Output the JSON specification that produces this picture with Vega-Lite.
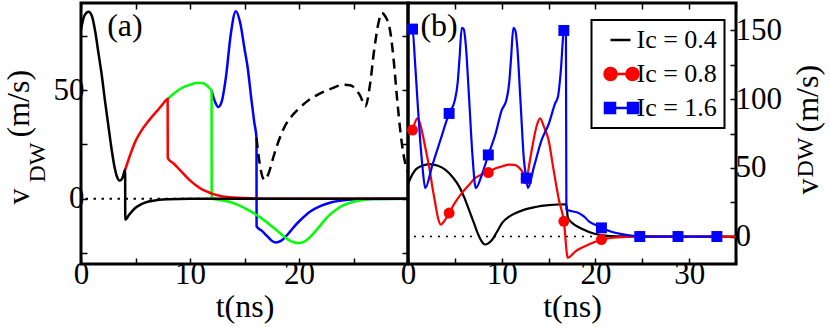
{
  "$schema": "https://vega.github.io/schema/vega-lite/v6.json",
  "padding": {"left": 0, "top": 0, "right": 0, "bottom": 0},
  "config": {
    "font": "Liberation Serif, DejaVu Serif, serif",
    "view": {"stroke": "#000000", "strokeWidth": 3},
    "axis": {"grid": false, "domain": false, "labelFont": "Liberation Serif, DejaVu Serif, serif", "titleFont": "Liberation Serif, DejaVu Serif, serif", "labelFontSize": 31, "titleFontSize": 32, "titleFontWeight": "normal", "labelColor": "#000000", "titleColor": "#000000", "tickColor": "#000000", "tickWidth": 1.5, "labelFlush": false, "labelOverlap": false},
    "legend": {"labelFont": "Liberation Serif, DejaVu Serif, serif", "labelFontSize": 26, "labelColor": "#000000"},
    "text": {"font": "Liberation Serif, DejaVu Serif, serif", "color": "#000000"}
  },
  "datasets": {
    "a_curves": [
      {"t":11.98,"v":49.8,"s":"d1"},{"t":12.3,"v":44.5,"s":"d1"},{"t":12.6,"v":42.2,"s":"d1"},{"t":12.9,"v":44.5,"s":"d1"},{"t":13.3,"v":56,"s":"d1"},{"t":13.75,"v":76,"s":"d1"},{"t":14.2,"v":86.2,"s":"d1"},{"t":14.6,"v":81,"s":"d1"},{"t":15.0,"v":69,"s":"d1"},{"t":15.3,"v":60,"s":"d1"},{"t":15.6,"v":47,"s":"d1"},{"t":15.9,"v":35,"s":"d1"},{"t":16.1,"v":28,"s":"d1"},{"t":16.11,"v":-12.7,"s":"d1"},{"t":16.6,"v":-14.8,"s":"d1"},{"t":17.1,"v":-17.3,"s":"d1"},{"t":17.5,"v":-19.3,"s":"d1"},{"t":17.9,"v":-20.1,"s":"d1"},{"t":18.3,"v":-19.5,"s":"d1"},{"t":18.7,"v":-17.8,"s":"d1"},{"t":19.2,"v":-15,"s":"d1"},{"t":19.7,"v":-12,"s":"d1"},{"t":20.2,"v":-9.5,"s":"d1"},{"t":21,"v":-6,"s":"d1"},{"t":22,"v":-3.3,"s":"d1"},{"t":23,"v":-1.6,"s":"d1"},{"t":24.5,"v":-0.5,"s":"d1"},{"t":26,"v":-0.1,"s":"d1"},{"t":30,"v":0,"s":"d1"},
      {"t":7.96,"v":45.9,"s":"d2"},{"t":8.5,"v":48.3,"s":"d2"},{"t":9.2,"v":50.8,"s":"d2"},{"t":10,"v":52.4,"s":"d2"},{"t":10.6,"v":53.2,"s":"d2"},{"t":11.1,"v":53.2,"s":"d2"},{"t":11.5,"v":52.3,"s":"d2"},{"t":11.8,"v":50.8,"s":"d2"},{"t":11.98,"v":49.8,"s":"d2"},{"t":11.99,"v":0,"s":"d2"},{"t":12.5,"v":-0.3,"s":"d2"},{"t":13.5,"v":-1.3,"s":"d2"},{"t":14.5,"v":-3,"s":"d2"},{"t":15.5,"v":-5.6,"s":"d2"},{"t":16.5,"v":-8.8,"s":"d2"},{"t":17.5,"v":-12.6,"s":"d2"},{"t":18.3,"v":-16,"s":"d2"},{"t":19,"v":-18.8,"s":"d2"},{"t":19.5,"v":-20,"s":"d2"},{"t":20,"v":-20.3,"s":"d2"},{"t":20.5,"v":-19.7,"s":"d2"},{"t":21,"v":-17.7,"s":"d2"},{"t":21.5,"v":-15,"s":"d2"},{"t":22,"v":-12,"s":"d2"},{"t":22.5,"v":-9,"s":"d2"},{"t":23,"v":-6.6,"s":"d2"},{"t":23.5,"v":-4.7,"s":"d2"},{"t":24,"v":-3.2,"s":"d2"},{"t":25,"v":-1.4,"s":"d2"},{"t":26,"v":-0.5,"s":"d2"},{"t":27,"v":-0.1,"s":"d2"},{"t":30,"v":0,"s":"d2"},
      {"t":4.05,"v":13.3,"s":"d3"},{"t":4.5,"v":20,"s":"d3"},{"t":5,"v":26.5,"s":"d3"},{"t":5.5,"v":31,"s":"d3"},{"t":6.2,"v":35.8,"s":"d3"},{"t":7,"v":40.5,"s":"d3"},{"t":7.5,"v":43.5,"s":"d3"},{"t":7.95,"v":45.9,"s":"d3"},{"t":7.96,"v":18.7,"s":"d3"},{"t":8.5,"v":16.2,"s":"d3"},{"t":9,"v":13.6,"s":"d3"},{"t":9.5,"v":11,"s":"d3"},{"t":10.1,"v":8,"s":"d3"},{"t":10.6,"v":6,"s":"d3"},{"t":11.1,"v":4.3,"s":"d3"},{"t":11.7,"v":3,"s":"d3"},{"t":12.3,"v":1.9,"s":"d3"},{"t":13,"v":1.1,"s":"d3"},{"t":14,"v":0.55,"s":"d3"},{"t":15,"v":0.3,"s":"d3"},{"t":16,"v":0.15,"s":"d3"},{"t":18,"v":0.05,"s":"d3"},{"t":30,"v":0,"s":"d3"},
      {"t":0,"v":77.7,"s":"d4"},{"t":0.3,"v":84,"s":"d4"},{"t":0.7,"v":86,"s":"d4"},{"t":1.0,"v":84,"s":"d4"},{"t":1.3,"v":77,"s":"d4"},{"t":1.6,"v":67,"s":"d4"},{"t":1.9,"v":57,"s":"d4"},{"t":2.2,"v":45,"s":"d4"},{"t":2.5,"v":34,"s":"d4"},{"t":2.8,"v":23,"s":"d4"},{"t":3.1,"v":14,"s":"d4"},{"t":3.35,"v":9.5,"s":"d4"},{"t":3.55,"v":8.3,"s":"d4"},{"t":3.8,"v":9.5,"s":"d4"},{"t":4.05,"v":13.3,"s":"d4"},{"t":4.06,"v":-9.7,"s":"d4"},{"t":4.4,"v":-7.5,"s":"d4"},{"t":4.9,"v":-4.6,"s":"d4"},{"t":5.5,"v":-2.6,"s":"d4"},{"t":6.2,"v":-1.3,"s":"d4"},{"t":7,"v":-0.6,"s":"d4"},{"t":8,"v":-0.2,"s":"d4"},{"t":10,"v":0,"s":"d4"},{"t":30,"v":0,"s":"d4"}
    ],
    "a_dash": [
      {"t":16.1,"v":28},{"t":16.4,"v":16},{"t":16.7,"v":9.5},{"t":16.9,"v":8.7},{"t":17.2,"v":11.5},{"t":17.7,"v":20},{"t":18.2,"v":27.5},{"t":18.7,"v":33.3},{"t":19.3,"v":37.8},{"t":19.9,"v":41},{"t":20.8,"v":45},{"t":21.7,"v":47.8},{"t":22.9,"v":50.5},{"t":24.1,"v":52.4},{"t":24.7,"v":52.2},{"t":25.1,"v":50.9},{"t":25.6,"v":47.5},{"t":26.1,"v":42.5},{"t":26.5,"v":52},{"t":26.9,"v":68.5},{"t":27.3,"v":81},{"t":27.6,"v":85.4},{"t":27.9,"v":84},{"t":28.4,"v":76},{"t":28.7,"v":63},{"t":29.0,"v":46},{"t":29.3,"v":31},{"t":29.6,"v":20},{"t":30,"v":12}
    ],
    "b_curves": [
      {"t":0,"v":38,"ic":"0.4"},{"t":0.3,"v":43,"ic":"0.4"},{"t":0.8,"v":48.6,"ic":"0.4"},{"t":1.5,"v":51.5,"ic":"0.4"},{"t":2.3,"v":52.7,"ic":"0.4"},{"t":3.2,"v":51.5,"ic":"0.4"},{"t":4.0,"v":48.6,"ic":"0.4"},{"t":4.8,"v":43,"ic":"0.4"},{"t":5.45,"v":36.5,"ic":"0.4"},{"t":6.0,"v":28.5,"ic":"0.4"},{"t":6.5,"v":19.6,"ic":"0.4"},{"t":7.0,"v":10.5,"ic":"0.4"},{"t":7.4,"v":3,"ic":"0.4"},{"t":7.8,"v":-2.8,"ic":"0.4"},{"t":8.2,"v":-5.8,"ic":"0.4"},{"t":8.6,"v":-4.8,"ic":"0.4"},{"t":9.0,"v":-2.2,"ic":"0.4"},{"t":9.5,"v":3.5,"ic":"0.4"},{"t":10.05,"v":9.9,"ic":"0.4"},{"t":10.8,"v":14.5,"ic":"0.4"},{"t":11.5,"v":17.1,"ic":"0.4"},{"t":12.5,"v":19.8,"ic":"0.4"},{"t":13.6,"v":21.5,"ic":"0.4"},{"t":15,"v":22.8,"ic":"0.4"},{"t":16.9,"v":23.5,"ic":"0.4"},{"t":17.05,"v":14,"ic":"0.4"},{"t":17.5,"v":10,"ic":"0.4"},{"t":18.6,"v":5.5,"ic":"0.4"},{"t":19.9,"v":2,"ic":"0.4"},{"t":21.3,"v":0.5,"ic":"0.4"},{"t":23,"v":0.1,"ic":"0.4"},{"t":35,"v":0,"ic":"0.4"},
      {"t":0.2,"v":76,"ic":"0.8"},{"t":0.48,"v":77.5,"ic":"0.8"},{"t":0.8,"v":84,"ic":"0.8"},{"t":1.0,"v":86,"ic":"0.8"},{"t":1.2,"v":84,"ic":"0.8"},{"t":1.54,"v":75,"ic":"0.8"},{"t":1.9,"v":63,"ic":"0.8"},{"t":2.25,"v":51,"ic":"0.8"},{"t":2.6,"v":36,"ic":"0.8"},{"t":2.96,"v":22,"ic":"0.8"},{"t":3.2,"v":13.5,"ic":"0.8"},{"t":3.5,"v":8.7,"ic":"0.8"},{"t":3.85,"v":11,"ic":"0.8"},{"t":4.39,"v":17.1,"ic":"0.8"},{"t":5.0,"v":24.5,"ic":"0.8"},{"t":5.74,"v":31.6,"ic":"0.8"},{"t":6.5,"v":37.5,"ic":"0.8"},{"t":7.15,"v":42.5,"ic":"0.8"},{"t":7.8,"v":45,"ic":"0.8"},{"t":8.57,"v":46.6,"ic":"0.8"},{"t":9.3,"v":49.5,"ic":"0.8"},{"t":10,"v":51,"ic":"0.8"},{"t":10.8,"v":52.3,"ic":"0.8"},{"t":11.35,"v":52.2,"ic":"0.8"},{"t":11.8,"v":50.5,"ic":"0.8"},{"t":12.2,"v":47.3,"ic":"0.8"},{"t":12.62,"v":42,"ic":"0.8"},{"t":13.0,"v":55,"ic":"0.8"},{"t":13.4,"v":70.3,"ic":"0.8"},{"t":13.75,"v":81,"ic":"0.8"},{"t":14.1,"v":86,"ic":"0.8"},{"t":14.5,"v":80,"ic":"0.8"},{"t":15.0,"v":70.3,"ic":"0.8"},{"t":15.5,"v":50,"ic":"0.8"},{"t":16.1,"v":26.8,"ic":"0.8"},{"t":16.63,"v":11.1,"ic":"0.8"},{"t":17.05,"v":-15.5,"ic":"0.8"},{"t":17.9,"v":-10.6,"ic":"0.8"},{"t":19.3,"v":-5.8,"ic":"0.8"},{"t":20.64,"v":-2.2,"ic":"0.8"},{"t":22,"v":-0.8,"ic":"0.8"},{"t":24,"v":-0.1,"ic":"0.8"},{"t":24.73,"v":0,"ic":"0.8"},{"t":35,"v":0,"ic":"0.8"},
      {"t":0.3,"v":151,"ic":"1.6"},{"t":0.48,"v":151,"ic":"1.6"},{"t":0.75,"v":127,"ic":"1.6"},{"t":1.01,"v":99,"ic":"1.6"},{"t":1.3,"v":70,"ic":"1.6"},{"t":1.54,"v":51,"ic":"1.6"},{"t":1.84,"v":35.3,"ic":"1.6"},{"t":2.6,"v":52,"ic":"1.6"},{"t":3.4,"v":69,"ic":"1.6"},{"t":4.39,"v":89.6,"ic":"1.6"},{"t":5.0,"v":99.3,"ic":"1.6"},{"t":5.3,"v":112,"ic":"1.6"},{"t":5.5,"v":130,"ic":"1.6"},{"t":5.74,"v":152,"ic":"1.6"},{"t":5.95,"v":151,"ic":"1.6"},{"t":6.16,"v":140,"ic":"1.6"},{"t":6.5,"v":103,"ic":"1.6"},{"t":6.87,"v":60,"ic":"1.6"},{"t":7.23,"v":35.3,"ic":"1.6"},{"t":7.93,"v":46,"ic":"1.6"},{"t":8.57,"v":59.4,"ic":"1.6"},{"t":9.35,"v":75,"ic":"1.6"},{"t":10.0,"v":92,"ic":"1.6"},{"t":10.5,"v":99.3,"ic":"1.6"},{"t":10.8,"v":112,"ic":"1.6"},{"t":11.0,"v":130,"ic":"1.6"},{"t":11.24,"v":152,"ic":"1.6"},{"t":11.45,"v":150,"ic":"1.6"},{"t":11.66,"v":138,"ic":"1.6"},{"t":12.0,"v":99,"ic":"1.6"},{"t":12.37,"v":55.8,"ic":"1.6"},{"t":12.62,"v":42.5,"ic":"1.6"},{"t":12.8,"v":35.3,"ic":"1.6"},{"t":13.44,"v":50.7,"ic":"1.6"},{"t":14.26,"v":70.3,"ic":"1.6"},{"t":15.04,"v":82.4,"ic":"1.6"},{"t":15.7,"v":97,"ic":"1.6"},{"t":16.0,"v":101.7,"ic":"1.6"},{"t":16.3,"v":120,"ic":"1.6"},{"t":16.63,"v":150,"ic":"1.6"},{"t":16.85,"v":152,"ic":"1.6"},{"t":16.9,"v":19.6,"ic":"1.6"},{"t":17.5,"v":18.4,"ic":"1.6"},{"t":18.2,"v":17.2,"ic":"1.6"},{"t":18.8,"v":14.5,"ic":"1.6"},{"t":19.3,"v":11.1,"ic":"1.6"},{"t":20.0,"v":8.5,"ic":"1.6"},{"t":20.64,"v":6.3,"ic":"1.6"},{"t":21.7,"v":3.5,"ic":"1.6"},{"t":22.8,"v":1.8,"ic":"1.6"},{"t":24,"v":0.5,"ic":"1.6"},{"t":24.73,"v":0,"ic":"1.6"},{"t":28.81,"v":0,"ic":"1.6"},{"t":32.96,"v":0,"ic":"1.6"}
    ],
    "b_marks": [
      {"t":0.48,"v":77.5,"ic":"0.8"},{"t":4.39,"v":17.1,"ic":"0.8"},{"t":8.57,"v":46.6,"ic":"0.8"},{"t":12.62,"v":42,"ic":"0.8"},{"t":16.63,"v":11.1,"ic":"0.8"},{"t":20.64,"v":-2.2,"ic":"0.8"},{"t":24.73,"v":0,"ic":"0.8"},{"t":28.81,"v":0,"ic":"0.8"},{"t":32.96,"v":0,"ic":"0.8"},
      {"t":0.48,"v":151,"ic":"1.6"},{"t":4.39,"v":89.6,"ic":"1.6"},{"t":8.57,"v":59.4,"ic":"1.6"},{"t":12.62,"v":42.5,"ic":"1.6"},{"t":16.63,"v":150,"ic":"1.6"},{"t":20.64,"v":6.3,"ic":"1.6"},{"t":24.73,"v":0,"ic":"1.6"},{"t":28.81,"v":0,"ic":"1.6"},{"t":32.96,"v":0,"ic":"1.6"}
    ]
  },
  "hconcat": [
    {
      "width": 327,
      "height": 261,
      "resolve": {"axis": {"x": "independent", "y": "independent"}},
      "layer": [
        {
          "data": {"values": [{"v": 0}]},
          "mark": {"type": "rule", "strokeDash": [2.5, 5.5], "strokeWidth": 2, "color": "#000000"},
          "encoding": {
            "y": {"field": "v", "type": "quantitative", "scale": {"domain": [-30, 90], "nice": false, "zero": false},
              "axis": {"orient": "left", "labels": false, "ticks": false, "title": "(m/s)", "titleX": -53, "titleY": 134, "titleAngle": -90, "titleAlign": "left", "titleBaseline": "alphabetic", "titleFontSize": 32}}
          }
        },
        {
          "data": {"name": "a_curves"},
          "mark": {"type": "line", "interpolate": "monotone", "strokeWidth": 2.5},
          "encoding": {
            "x": {"field": "t", "type": "quantitative", "scale": {"domain": [0, 30], "nice": false, "zero": false},
              "axis": {"orient": "bottom", "values": [0, 5, 10, 15, 20, 25, 30], "labelExpr": "datum.value % 10 === 0 && datum.value < 30 ? datum.label : ''", "tickSize": -6, "labelPadding": 1, "title": "t(ns)", "titleY": 52, "titleBaseline": "alphabetic"}},
            "y": {"field": "v", "type": "quantitative", "scale": {"domain": [-30, 90], "nice": false, "zero": false},
              "axis": {"orient": "left", "values": [-25, 0, 25, 50, 75], "labelExpr": "datum.value % 50 === 0 ? datum.label : ''", "tickSize": -6, "labelPadding": 3, "title": "v", "titleX": -53, "titleY": 201, "titleAngle": -90, "titleAlign": "left", "titleBaseline": "alphabetic", "titleFontSize": 32}},
            "color": {"field": "s", "type": "nominal", "scale": {"domain": ["d1", "d2", "d3", "d4"], "range": ["#0000ff", "#00ff00", "#ff0000", "#000000"]}, "legend": null}
          }
        },
        {
          "data": {"name": "a_dash"},
          "mark": {"type": "line", "interpolate": "monotone", "strokeWidth": 2.5, "strokeDash": [10, 6], "color": "#000000"},
          "encoding": {
            "x": {"field": "t", "type": "quantitative", "scale": {"domain": [0, 30], "nice": false, "zero": false},
              "axis": {"orient": "top", "values": [0, 5, 10, 15, 20, 25, 30], "labels": false, "tickSize": -6, "title": null}},
            "y": {"field": "v", "type": "quantitative", "scale": {"domain": [-30, 90], "nice": false, "zero": false},
              "axis": {"orient": "left", "labels": false, "ticks": false, "title": "DW", "titleX": -37, "titleY": 179, "titleAngle": -90, "titleAlign": "left", "titleBaseline": "alphabetic", "titleFontSize": 24}}
          }
        },
        {
          "data": {"values": [{"t": 2.4, "v": 75, "label": "(a)"}]},
          "mark": {"type": "text", "align": "left", "baseline": "alphabetic", "fontSize": 32},
          "encoding": {
            "x": {"field": "t", "type": "quantitative", "scale": {"domain": [0, 30], "nice": false, "zero": false}, "axis": null},
            "y": {"field": "v", "type": "quantitative", "scale": {"domain": [-30, 90], "nice": false, "zero": false},
              "axis": {"orient": "right", "values": [-25, 0, 25, 50, 75], "labels": false, "tickSize": -6, "title": null}},
            "text": {"field": "label"}
          }
        }
      ]
    },
    {
      "width": 328,
      "height": 261,
      "resolve": {"axis": {"x": "independent", "y": "independent"}},
      "layer": [
        {
          "data": {"values": [{"v": 0}]},
          "mark": {"type": "rule", "strokeDash": [2, 6], "strokeWidth": 1.5, "color": "#000000"},
          "encoding": {
            "y": {"field": "v", "type": "quantitative", "scale": {"domain": [-20, 170], "nice": false, "zero": false},
              "axis": {"orient": "right", "labels": false, "ticks": false, "title": "(m/s)", "titleX": 81, "titleY": 129, "titleAngle": -90, "titleAlign": "left", "titleBaseline": "alphabetic", "titleFontSize": 32}}
          }
        },
        {
          "data": {"name": "b_curves"},
          "mark": {"type": "line", "interpolate": "monotone", "strokeWidth": 2.2},
          "encoding": {
            "x": {"field": "t", "type": "quantitative", "scale": {"domain": [0, 35], "nice": false, "zero": false},
              "axis": {"orient": "bottom", "values": [0, 5, 10, 15, 20, 25, 30, 35], "labelExpr": "datum.value % 10 === 0 && datum.value < 35 ? datum.label : ''", "tickSize": -6, "labelPadding": 1, "title": "t(ns)", "titleY": 52, "titleBaseline": "alphabetic"}},
            "y": {"field": "v", "type": "quantitative", "scale": {"domain": [-20, 170], "nice": false, "zero": false},
              "axis": {"orient": "right", "values": [0, 25, 50, 75, 100, 125, 150], "labelExpr": "datum.value % 50 === 0 ? datum.label : ''", "tickSize": -6, "labelPadding": 5, "title": "v", "titleX": 81, "titleY": 191, "titleAngle": -90, "titleAlign": "left", "titleBaseline": "alphabetic", "titleFontSize": 32}},
            "color": {"field": "ic", "type": "nominal", "scale": {"domain": ["0.4", "0.8", "1.6"], "range": ["#000000", "#ff0000", "#0000ff"]},
              "legend": {
                "title": null, "orient": "none", "legendX": 183.5, "legendY": 17,
                "labelExpr": "'Ic = ' + datum.label", "labelFontSize": 26, "labelOffset": 2, "symbolOffset": 10,
                "symbolSize": 100, "rowPadding": 8, "padding": 7, "strokeColor": "#000000", "fillColor": "#ffffff",
                "encoding": {
                  "legend": {"strokeWidth": {"value": 2}},
                  "symbols": {
                    "shape": {"value": {"expr": "datum.value === '0.8' ? 'M-2.2,0H2.2M-3.4,0A1.2,1.2,0,1,0,-1,0A1.2,1.2,0,1,0,-3.4,0ZM1,0A1.2,1.2,0,1,0,3.4,0A1.2,1.2,0,1,0,1,0Z' : datum.value === '1.6' ? 'M-2.3,0H2.3M-3.3,-1H-1.3V1H-3.3ZM1.3,-1H3.3V1H1.3Z' : 'M-2.2,0H1.8'"}},
                    "fill": {"value": {"expr": "datum.value === '0.8' ? '#ff0000' : datum.value === '1.6' ? '#0000ff' : 'transparent'"}},
                    "stroke": {"value": {"expr": "datum.value === '0.8' ? '#ff0000' : datum.value === '1.6' ? '#0000ff' : '#000000'"}},
                    "strokeWidth": {"value": 2.5},
                    "size": {"value": 100}
                  }
                }
              }
            }
          }
        },
        {
          "data": {"name": "b_marks"},
          "mark": {"type": "point", "filled": true, "opacity": 1},
          "encoding": {
            "x": {"field": "t", "type": "quantitative", "scale": {"domain": [0, 35], "nice": false, "zero": false},
              "axis": {"orient": "top", "values": [0, 5, 10, 15, 20, 25, 30, 35], "labels": false, "tickSize": -6, "title": null}},
            "y": {"field": "v", "type": "quantitative", "scale": {"domain": [-20, 170], "nice": false, "zero": false},
              "axis": {"orient": "right", "labels": false, "ticks": false, "title": "DW", "titleX": 76, "titleY": 174, "titleAngle": -90, "titleAlign": "left", "titleBaseline": "alphabetic", "titleFontSize": 24}},
            "color": {"field": "ic", "type": "nominal", "scale": {"domain": ["0.4", "0.8", "1.6"], "range": ["#000000", "#ff0000", "#0000ff"]}, "legend": null},
            "shape": {"field": "ic", "type": "nominal", "scale": {"domain": ["0.8", "1.6"], "range": ["circle", "square"]}, "legend": null},
            "size": {"value": 120}
          }
        },
        {
          "data": {"values": [{"t": 1.33, "v": 146, "label": "(b)"}]},
          "mark": {"type": "text", "align": "left", "baseline": "alphabetic", "fontSize": 32},
          "encoding": {
            "x": {"field": "t", "type": "quantitative", "scale": {"domain": [0, 35], "nice": false, "zero": false}, "axis": null},
            "y": {"field": "v", "type": "quantitative", "scale": {"domain": [-20, 170], "nice": false, "zero": false}, "axis": null},
            "text": {"field": "label"}
          }
        }
      ]
    }
  ],
  "spacing": 0,
  "bounds": "flush",
  "resolve": {"scale": {"color": "independent"}, "legend": {"color": "independent"}}
}
